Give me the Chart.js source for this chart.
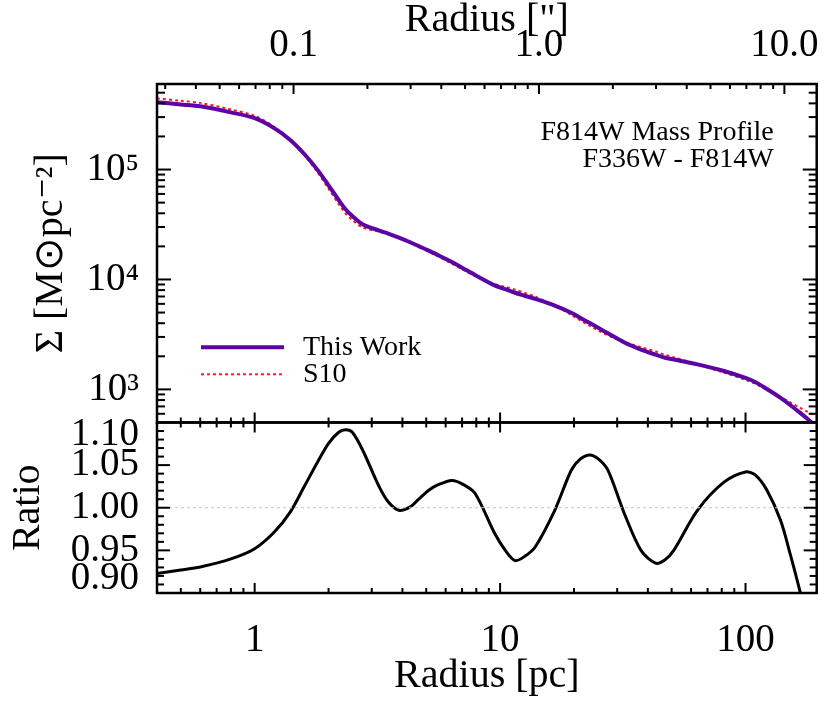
<!DOCTYPE html>
<html lang="en">
<head>
<meta charset="UTF-8">
<script src="https://cdn.jsdelivr.net/npm/chart.js"></script>
<title>F814W Mass Profile</title>
<style>
    html, body { margin: 0; padding: 0; background: #fff; }
    canvas { display: block; }
</style>
</head>
<body>

<canvas id="profileChart" width="830" height="706"></canvas>

<script>
    // radius [pc], shared by all curves
    var radius = [0.40, 0.5, 0.6, 0.8, 1.0, 1.2, 1.4, 1.6, 1.8, 2.0,
        2.2, 2.35, 2.5, 2.75, 3.2, 3.5, 3.87, 4.3, 4.66, 5.12,
        5.6, 6.36, 7.0, 7.9, 9.5, 10.5, 11.5, 12.6, 13.9, 16.7,
        19.5, 21.2, 23.2, 25.2, 27.5, 32.1, 37.5, 43, 47, 51,
        63.7, 81.7, 100, 110, 122, 139, 152, 167, 180, 195];

    // surface mass density [Msun pc^-2]
    var thisWork = [4.09e5, 3.91e5, 3.76e5, 3.31e5, 2.93e5, 2.38e5, 1.85e5, 1.37e5, 9.98e4, 7.19e4,
        5.28e4, 4.33e4, 3.78e4, 3.18e4, 2.79e4, 2.61e4, 2.40e4, 2.18e4, 2.01e4, 1.83e4,
        1.66e4, 1.44e4, 1.28e4, 1.10e4, 8830, 8150, 7570, 7110, 6650, 5780,
        4980, 4490, 4010, 3610, 3240, 2670, 2300, 2070, 1940, 1870,
        1690, 1470, 1270, 1160, 1010, 838, 721, 611, 533, 457];
    var s10 = [4.44e5, 4.22e5, 4.04e5, 3.52e5, 3.08e5, 2.45e5, 1.86e5, 1.34e5, 9.48e4, 6.69e4,
        4.85e4, 3.96e4, 3.47e4, 2.98e4, 2.72e4, 2.59e4, 2.41e4, 2.18e4, 1.99e4, 1.79e4,
        1.62e4, 1.39e4, 1.24e4, 1.08e4, 9100, 8570, 8070, 7550, 6980, 5790,
        4760, 4250, 3780, 3420, 3100, 2690, 2420, 2210, 2060, 1960,
        1690, 1420, 1220, 1120, 993, 851, 762, 678, 621, 571];

    // this work / S10
    var ratio = [0.923, 0.927, 0.9305, 0.940, 0.952, 0.9712, 0.9955, 1.026, 1.053, 1.0755,
        1.0886, 1.0915, 1.0885, 1.068, 1.026, 1.007, 0.997, 1.001, 1.010, 1.0205,
        1.027, 1.032, 1.028, 1.017, 0.970, 0.950, 0.938, 0.943, 0.954, 0.997,
        1.044, 1.057, 1.062, 1.057, 1.044, 0.993, 0.950, 0.935, 0.939, 0.950,
        0.997, 1.030, 1.042, 1.038, 1.021, 0.985, 0.946, 0.901, 0.86, 0.80];

    // dotted reference line at ratio = 1
    var refLineX = [0.4, 195];
    var refLineY = [1.0, 1.0];

    // axis ticks
    var pcMajor = [1, 10, 100];
    var pcMinor = [0.5, 0.6, 0.7, 0.8, 0.9, 2, 3, 4, 5, 6, 7, 8, 9, 20, 30, 40, 50, 60, 70, 80, 90];
    var arcMajor = [0.1, 1, 10];
    var arcLabels = ['0.1', '1.0', '10.0'];
    var arcMinor = [0.03, 0.04, 0.05, 0.06, 0.07, 0.08, 0.09, 0.2, 0.3, 0.4, 0.5, 0.6, 0.7, 0.8, 0.9,
        2, 3, 4, 5, 6, 7, 8, 9];
    var sigmaMajor = [1e3, 1e4, 1e5];
    var sigmaLabels = ['10\u00B3', '10\u2074', '10\u2075'];
    var sigmaMinor = [600, 700, 800, 900, 2e3, 3e3, 4e3, 5e3, 6e3, 7e3, 8e3, 9e3,
        2e4, 3e4, 4e4, 5e4, 6e4, 7e4, 8e4, 9e4, 2e5, 3e5, 4e5, 5e5, 6e5];
    var ratioMajor = [0.90, 0.95, 1.00, 1.05, 1.10];
    var ratioLabels = ['0.90', '0.95', '1.00', '1.05', '1.10'];
    var ratioMinor = [0.91, 0.92, 0.93, 0.94, 0.96, 0.97, 0.98, 0.99,
        1.01, 1.02, 1.03, 1.04, 1.06, 1.07, 1.08, 1.09];

    var noteLines = ['F814W Mass Profile', 'F336W - F814W'];

    var pcPerArcsec = 14.4;
    var xMin = 0.4, xMax = 195;
    var serif = '"Liberation Serif", "Times New Roman", serif';

    function pts(ys) {
        return radius.map(function (r, i) { return {x: r, y: ys[i]}; });
    }

    // keep every curve inside its own panel
    var panelClip = {
        id: 'panelClip',
        beforeDatasetDraw: function (chart, args) {
            var a = chart.chartArea;
            var ys = chart.scales[args.meta.yAxisID];
            chart.ctx.save();
            chart.ctx.beginPath();
            chart.ctx.rect(a.left, ys.top, a.right - a.left, ys.bottom - ys.top);
            chart.ctx.clip();
        },
        afterDatasetDraw: function (chart) {
            chart.ctx.restore();
        }
    };

    // IDL-style frame with inward ticks on every side
    var frameTicks = {
        id: 'frameTicks',
        afterDatasetsDraw: function (chart) {
            var ctx = chart.ctx, a = chart.chartArea, s = chart.scales;
            var panels = [s.y, s.yr];
            ctx.save();
            ctx.strokeStyle = '#000';
            ctx.lineCap = 'butt';

            function seg(x1, y1, x2, y2) {
                ctx.beginPath(); ctx.moveTo(x1, y1); ctx.lineTo(x2, y2); ctx.stroke();
            }
            function xTicks(scale, vals, y, len) {
                vals.forEach(function (v) {
                    var px = scale.getPixelForValue(v);
                    if (px > a.left + 1 && px < a.right - 1) seg(px, y, px, y + len);
                });
            }
            function yTicks(scale, vals, len) {
                vals.forEach(function (v) {
                    var py = scale.getPixelForValue(v);
                    if (py > scale.top + 1 && py < scale.bottom - 1) {
                        seg(a.left, py, a.left + len, py);
                        seg(a.right, py, a.right - len, py);
                    }
                });
            }

            ctx.lineWidth = 2;
            // top axis (arcsec)
            xTicks(s.x2, arcMajor, s.y.top, 10);
            xTicks(s.x2, arcMinor, s.y.top, 5);
            // pc ticks on the remaining horizontal edges
            xTicks(s.x, pcMajor, s.y.bottom, -10);
            xTicks(s.x, pcMinor, s.y.bottom, -5);
            xTicks(s.x, pcMajor, s.yr.top, 10);
            xTicks(s.x, pcMinor, s.yr.top, 5);
            xTicks(s.x, pcMajor, s.yr.bottom, -10);
            xTicks(s.x, pcMinor, s.yr.bottom, -5);
            // vertical axes
            yTicks(s.y, sigmaMajor, 14);
            yTicks(s.y, sigmaMinor, 8);
            yTicks(s.yr, ratioMajor, 13);
            yTicks(s.yr, ratioMinor, 7);

            ctx.lineWidth = 2.5;
            panels.forEach(function (p) {
                ctx.strokeRect(a.left, p.top, a.right - a.left, p.bottom - p.top);
            });
            ctx.restore();
        }
    };

    // legend and annotation inside the upper panel
    var insetText = {
        id: 'insetText',
        afterDraw: function (chart) {
            var ctx = chart.ctx, a = chart.chartArea;
            ctx.save();
            ctx.font = '28px ' + serif;
            ctx.fillStyle = '#000';
            ctx.textBaseline = 'alphabetic';

            ctx.textAlign = 'right';
            noteLines.forEach(function (t, i) {
                ctx.fillText(t, a.right - 43, a.top + 56 + i * 27.3);
            });

            ctx.textAlign = 'left';
            [0, 1].forEach(function (di, i) {
                var ds = chart.data.datasets[di];
                var y = a.top + 263.3 + i * 27;
                ctx.strokeStyle = ds.borderColor;
                ctx.lineWidth = ds.borderWidth;
                ctx.setLineDash(ds.borderDash || []);
                ctx.beginPath();
                ctx.moveTo(a.left + 44, y);
                ctx.lineTo(a.left + 127, y);
                ctx.stroke();
                ctx.setLineDash([]);
                ctx.fillText(ds.label, a.left + 146, y + 7.2);
            });
            ctx.restore();
        }
    };

    function onlyTicks(vals) {
        return function (scale) {
            scale.ticks = vals.map(function (v) { return {value: v}; });
        };
    }

    var ctx = document.getElementById('profileChart').getContext('2d');

    var myChart = new Chart(ctx, {
        type: 'line',
        data: {
            datasets: [{
                label: 'This Work',
                data: pts(thisWork),
                yAxisID: 'y',
                borderColor: 'rgb(92, 4, 164)',
                borderWidth: 4,
                pointRadius: 0,
                tension: 0.3
            }, {
                label: 'S10',
                data: pts(s10),
                yAxisID: 'y',
                borderColor: '#ff1a1a',
                borderWidth: 2,
                borderDash: [3, 3],
                pointRadius: 0,
                tension: 0.3
            }, {
                label: 'unity',
                data: refLineX.map(function (x, i) { return {x: x, y: refLineY[i]}; }),
                yAxisID: 'yr',
                borderColor: '#c4c4c4',
                borderWidth: 1,
                borderDash: [3, 3],
                pointRadius: 0
            }, {
                label: 'Ratio',
                data: pts(ratio),
                yAxisID: 'yr',
                borderColor: '#000',
                borderWidth: 3,
                pointRadius: 0,
                tension: 0.3
            }]
        },
        options: {
            responsive: false,
            animation: false,
            events: [],
            layout: {padding: {left: 0, right: 10, top: 0, bottom: 0}},
            plugins: {
                legend: {display: false},
                tooltip: {enabled: false}
            },
            scales: {
                x: {
                    type: 'logarithmic',
                    position: 'bottom',
                    min: xMin,
                    max: xMax,
                    grid: {display: false},
                    border: {display: false},
                    afterBuildTicks: onlyTicks(pcMajor),
                    afterFit: function (scale) { scale.height = 113; },
                    ticks: {
                        autoSkip: false,
                        maxRotation: 0,
                        padding: 20,
                        color: '#000',
                        font: {family: serif, size: 39, lineHeight: 1},
                        callback: function (value) { return String(value); }
                    },
                    title: {
                        display: true,
                        text: 'Radius [pc]',
                        color: '#000',
                        font: {family: serif, size: 40, lineHeight: 1},
                        padding: {top: 0, bottom: 10}
                    }
                },
                x2: {
                    type: 'logarithmic',
                    position: 'top',
                    min: xMin / pcPerArcsec,
                    max: xMax / pcPerArcsec,
                    grid: {display: false},
                    border: {display: false},
                    afterBuildTicks: onlyTicks(arcMajor),
                    afterFit: function (scale) { scale.height = 84; },
                    ticks: {
                        autoSkip: false,
                        maxRotation: 0,
                        padding: 11,
                        color: '#000',
                        font: {family: serif, size: 39, lineHeight: 1},
                        callback: function (value, index) { return arcLabels[index]; }
                    },
                    title: {
                        display: true,
                        text: 'Radius ["]',
                        color: '#000',
                        font: {family: serif, size: 40, lineHeight: 1},
                        padding: {top: 0, bottom: 0}
                    }
                },
                // left boxes are laid out in reverse order, so the ratio panel is listed first
                yr: {
                    type: 'linear',
                    position: 'left',
                    stack: 'panels',
                    stackWeight: 1,
                    min: 0.9,
                    max: 1.1,
                    grid: {display: false},
                    border: {display: false},
                    afterBuildTicks: onlyTicks(ratioMajor),
                    afterFit: function (scale) { scale.width = 157; },
                    ticks: {
                        autoSkip: false,
                        padding: 10,
                        color: '#000',
                        // end labels are nudged inward, as in the original plot
                        font: function (c) {
                            var i = c.index, lh = 1;
                            if (i === ratioMajor.length - 1) lh = 0.65;
                            if (i === 0) lh = 0.74;
                            return {family: serif, size: 39, lineHeight: lh};
                        },
                        callback: function (value, index) {
                            if (index === ratioMajor.length - 1) return ['', ratioLabels[index]];
                            if (index === 0) return [ratioLabels[index], ''];
                            return ratioLabels[index];
                        }
                    },
                    title: {
                        display: true,
                        text: 'Ratio',
                        color: '#000',
                        font: {family: serif, size: 40, lineHeight: 1},
                        padding: {top: 8, bottom: 0}
                    }
                },
                y: {
                    type: 'logarithmic',
                    position: 'left',
                    stack: 'panels',
                    stackWeight: 1.985,
                    min: 500,
                    max: 6e5,
                    grid: {display: false},
                    border: {display: false},
                    afterBuildTicks: onlyTicks(sigmaMajor),
                    afterFit: function (scale) { scale.width = 157; },
                    ticks: {
                        autoSkip: false,
                        padding: 10,
                        color: '#000',
                        font: {family: serif, size: 39, lineHeight: 1},
                        callback: function (value, index) { return sigmaLabels[index]; }
                    },
                    title: {
                        display: true,
                        text: '\u03A3 [M\u2299pc\u207B\u00B2]',
                        color: '#000',
                        font: {family: serif, size: 40, lineHeight: 1},
                        padding: {top: 31, bottom: 0}
                    }
                }
            }
        },
        plugins: [panelClip, frameTicks, insetText]
    });
</script>

</body>
</html>
